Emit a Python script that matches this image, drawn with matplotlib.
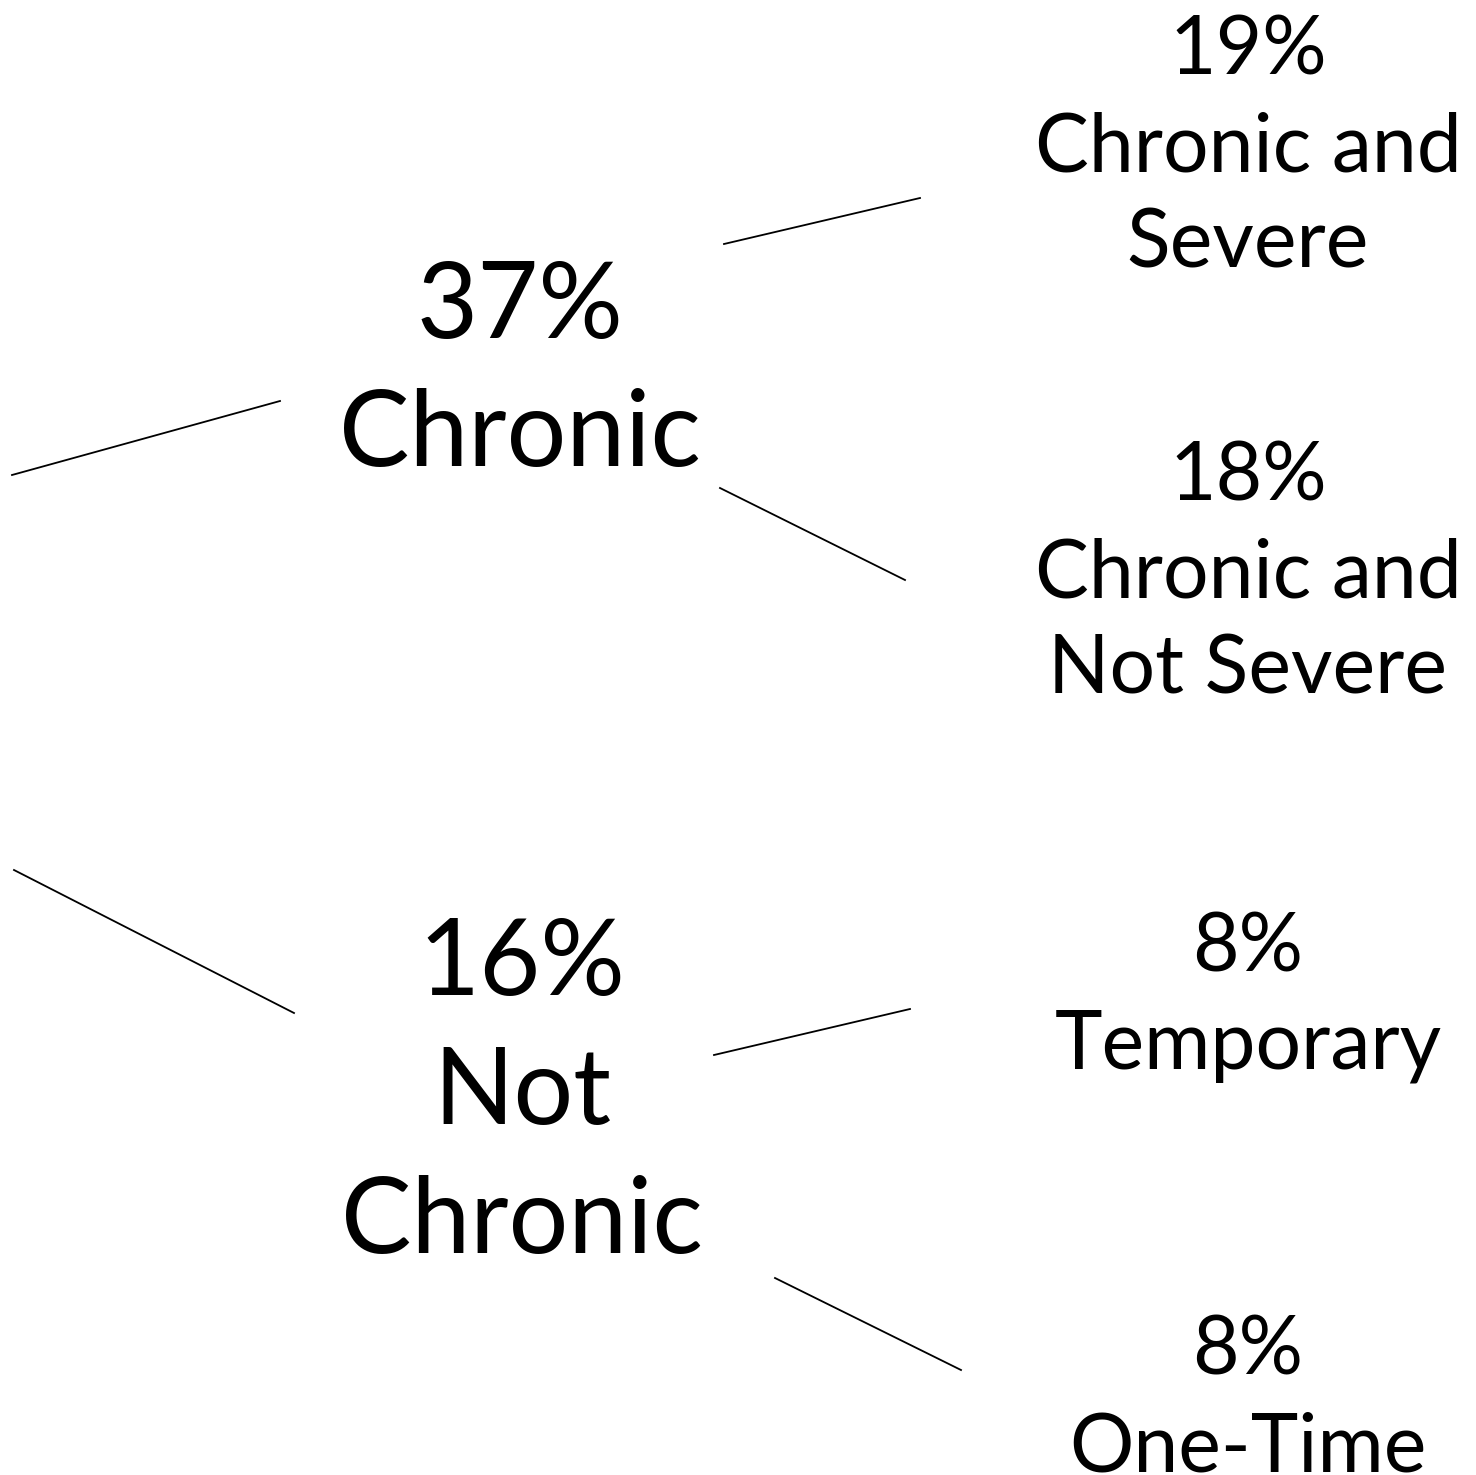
import matplotlib
matplotlib.use("Agg")
import matplotlib.pyplot as plt

# niveles del arbol
mid_labels = ["37%\nChronic", "16%\nNot\nChronic"]
leaf_labels = ["19%\nChronic and\nSevere", "18%\nChronic and\nNot Severe",
               "8%\nTemporary", "8%\nOne-Time"]

# posiciones en pixeles (layout)
mid_pos = [(520, 372), (522, 1094)]
leaf_pos = [(1248, 148), (1248, 574), (1248, 997), (1248, 1400)]

# conectores: (x0, y0, x1, y1)
conectores = [
    (12, 475, 280, 401),
    (14, 870, 294, 1013),
    (724, 244, 920, 198),
    (720, 488, 905, 580),
    (714, 1055, 910, 1009),
    (775, 1278, 961, 1370),
]

fig = plt.figure(figsize=(14.76, 14.75), dpi=100)
ax = fig.add_axes([0, 0, 1, 1])
ax.set_xlim(0, 1476)
ax.set_ylim(1475, 0)
ax.axis("off")

for x0, y0, x1, y1 in conectores:
    ax.plot([x0, x1], [y0, y1], color="black", lw=1.3)

for (x, y), txt in zip(mid_pos, mid_labels):
    ax.text(x, y, txt, ha="center", va="center", fontsize=76,
            family="Lato", linespacing=1.42)

for (x, y), txt in zip(leaf_pos, leaf_labels):
    ax.text(x, y, txt, ha="center", va="center", fontsize=58,
            family="Lato", linespacing=1.38)

fig.savefig("out.png", dpi=100)
